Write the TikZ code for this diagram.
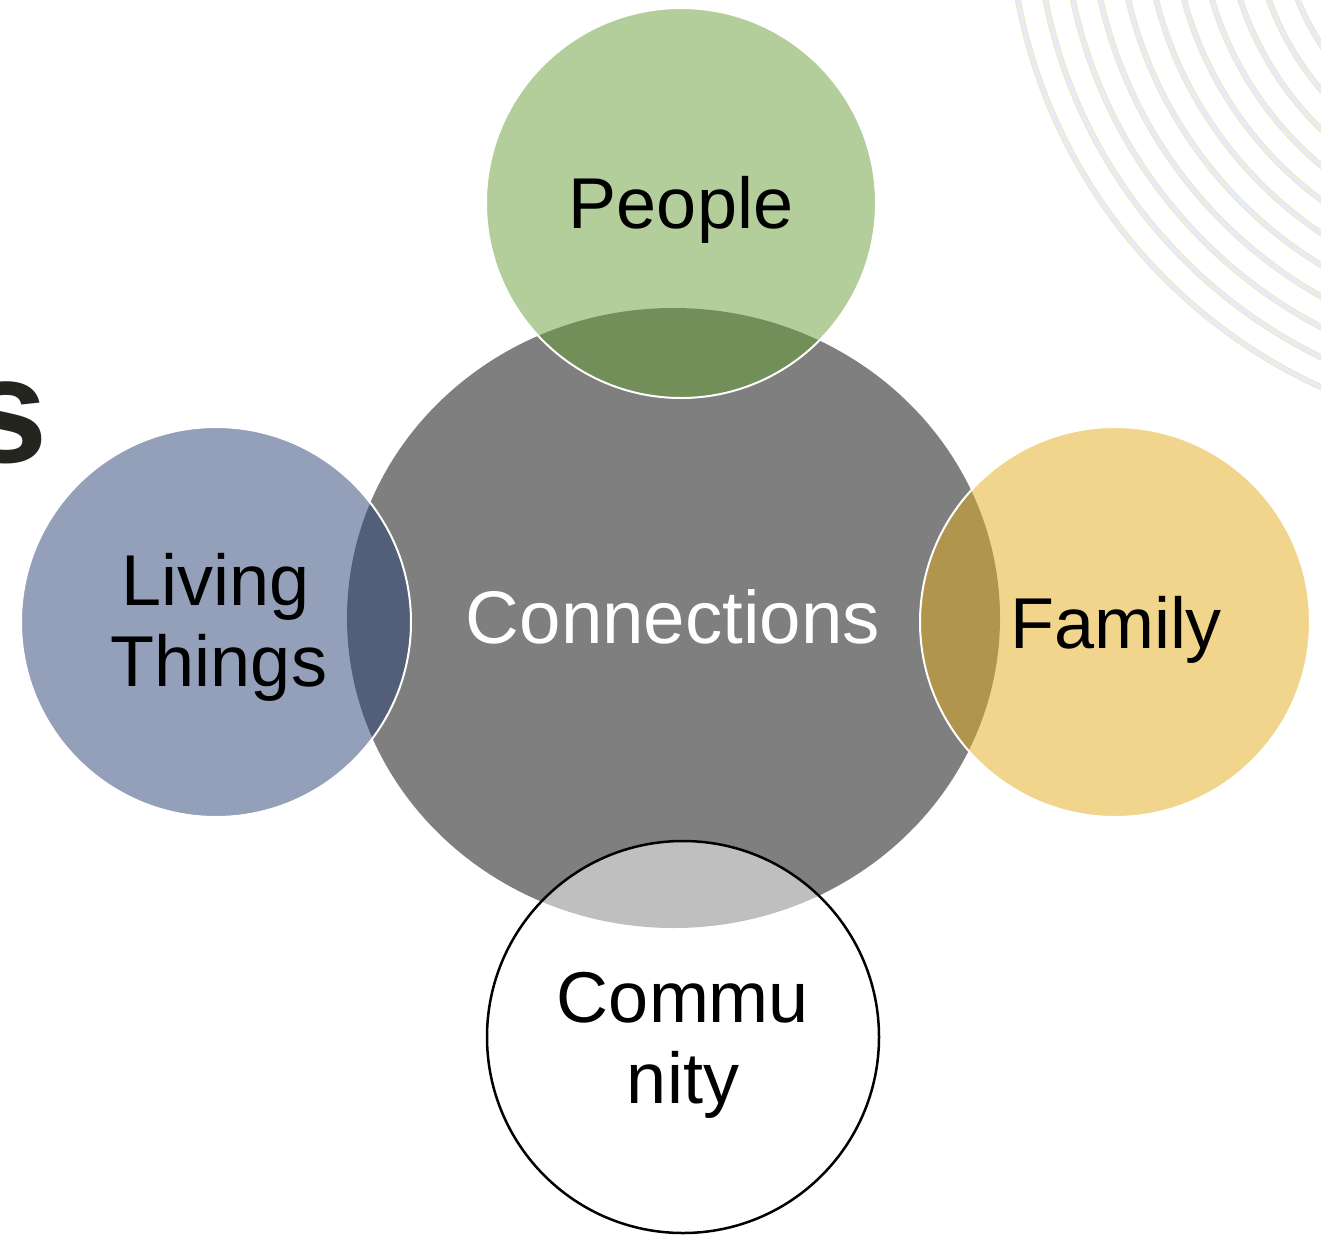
\documentclass[tikz,border=0pt]{standalone}
\usepackage{fontspec}
\setmainfont{Liberation Sans}
\usetikzlibrary{shapes.geometric}

% Fill colours; each satellite disc is laid down at half opacity
\definecolor{hubgrey}{RGB}{127,127,127}
\definecolor{peoplegreen}{RGB}{103,157,53}
\definecolor{livingblue}{RGB}{41,63,117}
\definecolor{familygold}{RGB}{229,171,27}
\definecolor{ringblue}{RGB}{229,236,247}
\definecolor{ringedge}{RGB}{249,226,165}
\definecolor{titleink}{RGB}{37,37,32}

\tikzset{
  hub/.style={ellipse, fill=hubgrey, minimum width=653pt, minimum height=620pt, inner sep=0pt},
  satellite/.style={circle, minimum size=390pt, inner sep=0pt, fill=#1,
    fill opacity=0.5, draw=white, draw opacity=1, line width=2pt},
  openbubble/.style={circle, minimum size=392pt, inner sep=0pt, fill=white,
    fill opacity=0.5, draw=black, draw opacity=1, line width=2.5pt},
  lbl/.style={anchor=base, inner sep=0pt, font=\fontsize{72}{81}\selectfont, text=black},
  ringedgeline/.style={draw=ringedge, line width=6pt},
  ringline/.style={draw=ringblue, line width=4.6pt},
}

\begin{document}
\begin{tikzpicture}[x=1pt, y=-1pt]
  \useasboundingbox (0,0) rectangle (1321,1234);
  \clip (0,0) rectangle (1321,1234);

  % concentric rings in the upper right corner
  \coordinate (ringc) at (1542,-98);
  \foreach \k in {0,...,11} {
    \pgfmathsetmacro{\rr}{533-27*\k}
    \draw[ringedgeline] (ringc) circle [radius=\rr pt];
    \draw[ringline] (ringc) circle [radius=\rr pt];
  }

  % last letter of the heading running in from the left
  \node[anchor=base west, inner sep=0pt, text=titleink,
        font=\fontsize{150}{150}\selectfont\bfseries] (heading) at (-36,462) {s};

  % central hub and the four satellites
  \node[hub] (hub) at (673.5,618) {};
  \node[satellite=peoplegreen] (people) at (681,203) {};
  \node[satellite=livingblue] (living) at (216,622) {};
  \node[satellite=familygold] (family) at (1115,622) {};
  \node[openbubble] (community) at (683,1037) {};

  % labels
  \node[lbl, text=white, font=\fontsize{74.5}{81}\selectfont] (tHub) at (673,643) {Connections};
  \node[lbl] (tPeople) at (681,228) {People};
  \node[lbl] (tLiving) at (216,605) {Living};
  \node[lbl] (tThings) at (219,686) {Things};
  \node[lbl] (tFamily) at (1116,648) {Family};
  \node[lbl] (tCommu) at (683,1022) {Commu};
  \node[lbl] (tNity) at (683,1103) {nity};
\end{tikzpicture}
\end{document}
